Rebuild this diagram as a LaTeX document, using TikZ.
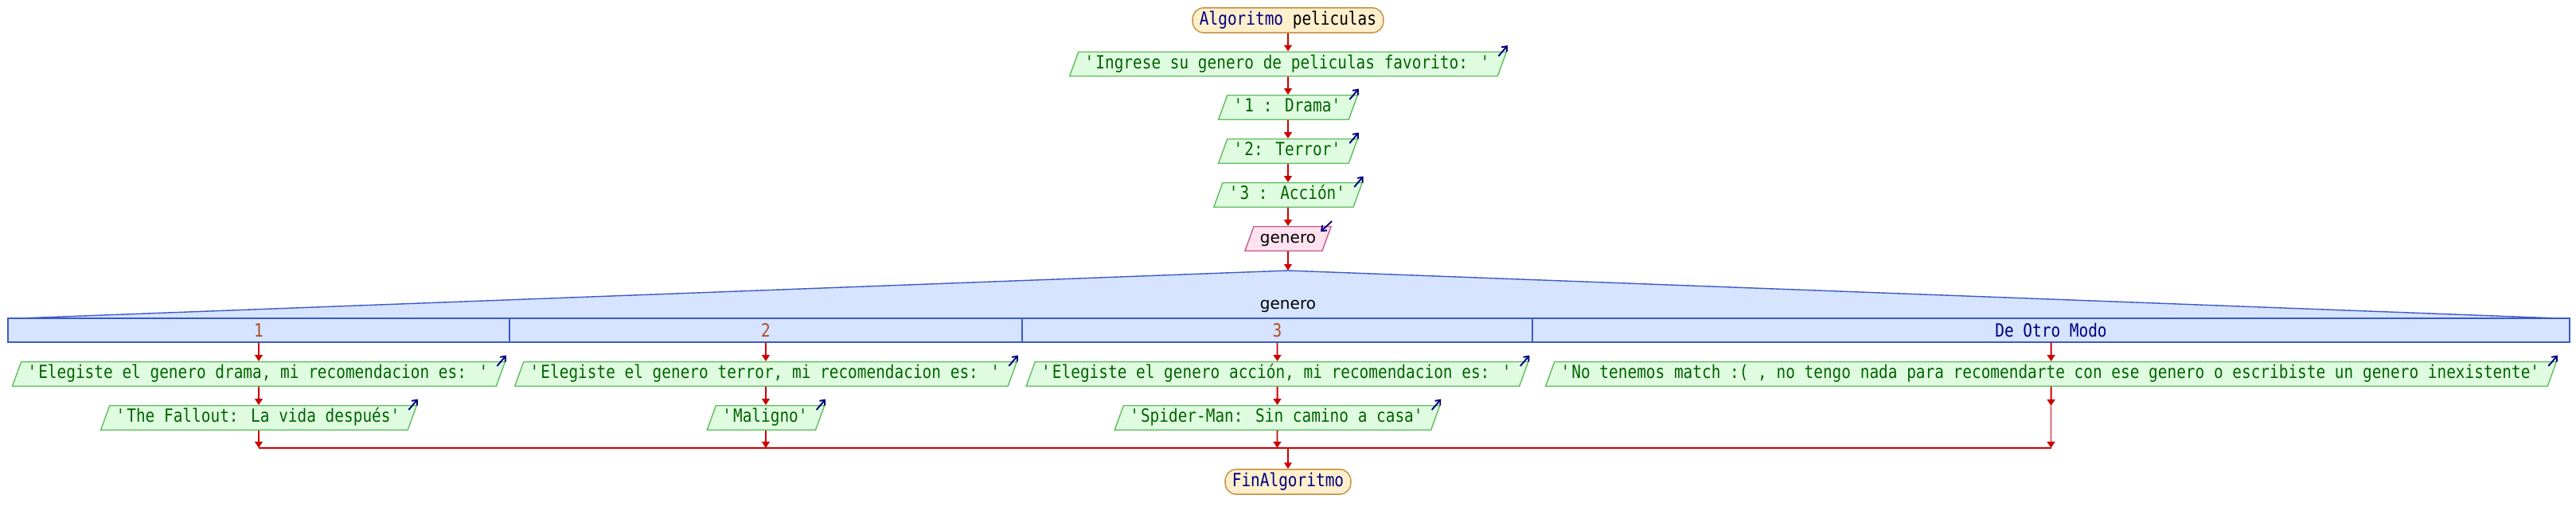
\documentclass[tikz,border=0pt]{standalone}
\usepackage{fontspec}
\setmainfont{DejaVu Sans}
\newfontfamily\flowmono[FakeStretch=0.85]{DejaVu Sans Mono}
\newfontfamily\flowsans{DejaVu Sans}
\usepackage{tikz}
\usetikzlibrary{shapes.geometric,arrows.meta,positioning,calc}
\usepackage{xcolor}
\definecolor{termfill}{RGB}{255,240,205}
\definecolor{termline}{RGB}{200,140,60}
\definecolor{outfill}{RGB}{224,252,224}
\definecolor{outline}{RGB}{95,190,95}
\definecolor{outtext}{RGB}{0,100,0}
\definecolor{infill}{RGB}{255,226,240}
\definecolor{inline}{RGB}{200,90,140}
\definecolor{casefill}{RGB}{214,228,255}
\definecolor{caseline}{RGB}{60,90,200}
\definecolor{flow}{RGB}{204,0,0}
\definecolor{navy}{RGB}{0,0,128}
\definecolor{sienna}{RGB}{170,80,40}
\newcommand\codefont{\flowmono\fontsize{13}{15}\selectfont}
\newcommand\varfont{\flowsans\fontsize{11.4}{14}\selectfont}
\newcommand\q{\textquotesingle}

\begin{document}
\begin{tikzpicture}[
    term/.style={rectangle, draw=termline, fill=termfill, rounded corners=8pt, line width=0.8pt,
                 text height=9.8pt, text depth=3pt, inner xsep=5pt, inner ysep=2.5pt, font=\codefont},
    outbox/.style={trapezium, trapezium left angle=70, trapezium right angle=110, draw=outline,
                 fill=outfill, line width=0.8pt, text=outtext, text height=9.8pt, text depth=3pt,
                 inner xsep=4.5pt, inner ysep=2.3pt, font=\codefont},
    inbox/.style={outbox, draw=inline, fill=infill, text=black, font=\varfont},
    casecell/.style={rectangle, draw=caseline, fill=casefill, line width=0.8pt,
                 minimum height=0.6cm, inner sep=0pt, font=\codefont},
    arr/.style={-{Triangle[width=5.5pt,length=4.5pt]}, line width=1.1pt, flow},
    outmark/.style={-{Straight Barb[length=3pt,width=5pt]}, line width=1.1pt, navy}
]
    \useasboundingbox (-32.36,0) rectangle (32.36,-13.1);

    \node[term] (start) at (0,-0.51) {\textcolor{navy}{Algoritmo} peliculas};
    \node[outbox] (msg) at (0,-1.61) {\q Ingrese su genero de peliculas favorito: \q};
    \node[outbox] (op1) at (0,-2.70) {\q 1 : Drama\q};
    \node[outbox] (op2) at (0,-3.80) {\q 2: Terror\q};
    \node[outbox] (op3) at (0,-4.90) {\q 3 : Acción\q};
    \node[inbox] (leer) at (0,-6.00) {genero};

    % segun
    \coordinate (apex) at (0,-6.8);
    \filldraw[fill=casefill, draw=caseline, line width=0.8pt] (-31.88,-8.0) -- (apex) -- (31.92,-8.0);
    \node[font=\varfont] (sel) at (0,-7.7) {genero};
    \node[casecell, minimum width=12.60cm, text=sienna] (c1) at (-25.86,-8.3) {1};
    \node[casecell, minimum width=12.88cm, text=sienna] (c2) at (-13.12,-8.3) {2};
    \node[casecell, minimum width=12.82cm, text=sienna] (c3) at (-0.27,-8.3) {3};
    \node[casecell, minimum width=26.06cm, text=navy] (c4) at (19.17,-8.3) {De Otro Modo};

    \node[outbox] (d1) at (-25.86,-9.40) {\q Elegiste el genero drama, mi recomendacion es: \q};
    \node[outbox] (d2) at (-13.12,-9.40) {\q Elegiste el genero terror, mi recomendacion es: \q};
    \node[outbox] (d3) at (-0.27,-9.40) {\q Elegiste el genero acción, mi recomendacion es: \q};
    \node[outbox] (d4) at (19.17,-9.40) {\q No tenemos match :( , no tengo nada para recomendarte con ese genero o escribiste un genero inexistente\q};

    \node[outbox] (r1) at (-25.86,-10.50) {\q The Fallout: La vida después\q};
    \node[outbox] (r2) at (-13.12,-10.50) {\q Maligno\q};
    \node[outbox] (r3) at (-0.27,-10.50) {\q Spider-Man: Sin camino a casa\q};
    \coordinate (e4) at (19.17,-10.20);

    \coordinate (join) at (0,-11.26);
    \node[term] (fin) at (0,-12.11) {\textcolor{navy}{FinAlgoritmo}};

    % flechas
    \draw[arr] (start) -- (msg);
    \draw[arr] (msg) -- (op1);
    \draw[arr] (op1) -- (op2);
    \draw[arr] (op2) -- (op3);
    \draw[arr] (op3) -- (leer);
    \draw[arr] (leer) -- (apex);
    \draw[flow, line width=1.5pt] (c1 |- join) -- (c4 |- join);
    \foreach \i in {1,2,3} {
        \draw[arr] (c\i) -- (d\i);
        \draw[arr] (d\i) -- (r\i);
        \draw[arr] (r\i) -- (r\i |- join);
    }
    \draw[arr] (c4) -- (d4);
    \draw[arr] (d4) -- (e4);
    \draw[arr] (e4) -- (e4 |- join);
    \draw[arr] (join) -- (fin);

    % marcas de escritura / lectura
    \foreach \n in {msg,op1,op2,op3,d1,d2,d3,d4,r1,r2,r3}
        \draw[outmark] ($(\n.top right corner)+(-0.22,-0.12)$) -- ++(0.23,0.27);
    \draw[outmark] ($(leer.top right corner)+(0,0.12)$) -- ++(-0.28,-0.26);
\end{tikzpicture}
\end{document}
